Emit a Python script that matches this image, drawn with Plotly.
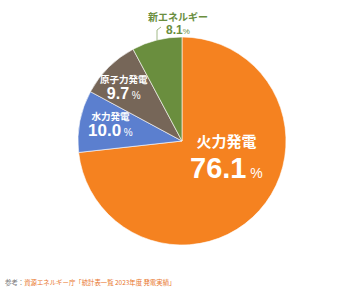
import plotly.graph_objects as go

categories = ["火力発電", "水力発電", "原子力発電", "新エネルギー"]
values = [76.1, 10.0, 9.7, 8.1]
colors = ["#F58220", "#5B7FCF", "#766658", "#6A8E3E"]
source_prefix = "参考："
source_text = "資源エネルギー庁「統計表一覧 2023年度 発電実績」"

W, H = 360, 290
FONT = "Noto Sans CJK JP, Noto Sans, sans-serif"
NUM_FONT = "Liberation Sans, Arial, sans-serif"

def px(x):
    return x / W

def py(y):
    return 1 - y / H

fig = go.Figure(go.Pie(
    labels=categories,
    values=values,
    sort=False,
    direction="clockwise",
    rotation=0,
    marker=dict(colors=colors, line=dict(color="white", width=0.6)),
    textinfo="none",
    hoverinfo="label+value",
    showlegend=False,
    domain=dict(x=[px(78), px(286)], y=[py(245), py(37)]),
))

def fmt(v):
    return f"{v:.1f}"

def block(name, val, name_size, val_size, pct_size, pct_gap=" "):
    return (f"<span style='font-size:{name_size}px'><b>{name}</b></span><br>"
            f"<span style='font-size:{val_size}px;font-family:{NUM_FONT}'><b>{fmt(val)}</b></span>"
            f"<span style='font-size:{pct_size}px;font-family:{NUM_FONT}'>{pct_gap}%</span>")

ann = []
# 火力発電 (inside, large)
ann.append(dict(x=px(226), y=py(157), text=block(categories[0], values[0], 15, 29, 14),
                font=dict(size=24, color="white", family=FONT)))
# 水力発電
ann.append(dict(x=px(110), y=py(125), text=block(categories[1], values[1], 9.5, 17, 10),
                font=dict(size=12.5, color="white", family=FONT)))
# 原子力発電
ann.append(dict(x=px(124), y=py(86.5), text=block(categories[2], values[2], 9.5, 16, 10),
                font=dict(size=12.2, color="white", family=FONT)))
# 新エネルギー (outside)
ann.append(dict(x=px(178), y=py(23), text=block(categories[3], values[3], 10, 12, 8, ""),
                font=dict(size=10, color=colors[3], family=FONT)))
# source
ann.append(dict(x=px(3), y=py(282), xanchor="left",
                text=f"<span style='color:#777777'>{source_prefix}</span>{source_text}",
                font=dict(size=6.4, color="#E8742A", family=FONT)))

for a in ann:
    a.setdefault("xanchor", "center")
    a.update(xref="paper", yref="paper", yanchor="middle", showarrow=False)

fig.update_layout(
    width=W, height=H,
    margin=dict(l=0, r=0, t=0, b=0),
    paper_bgcolor="white",
    plot_bgcolor="white",
    annotations=ann,
    shapes=[dict(type="path", xref="paper", yref="paper",
                 path=f"M {px(161)} {py(27)} L {px(157)} {py(30)} L {px(157)} {py(40)}",
                 line=dict(color="#8AA86A", width=0.8))],
)

fig.write_html("out.html")
